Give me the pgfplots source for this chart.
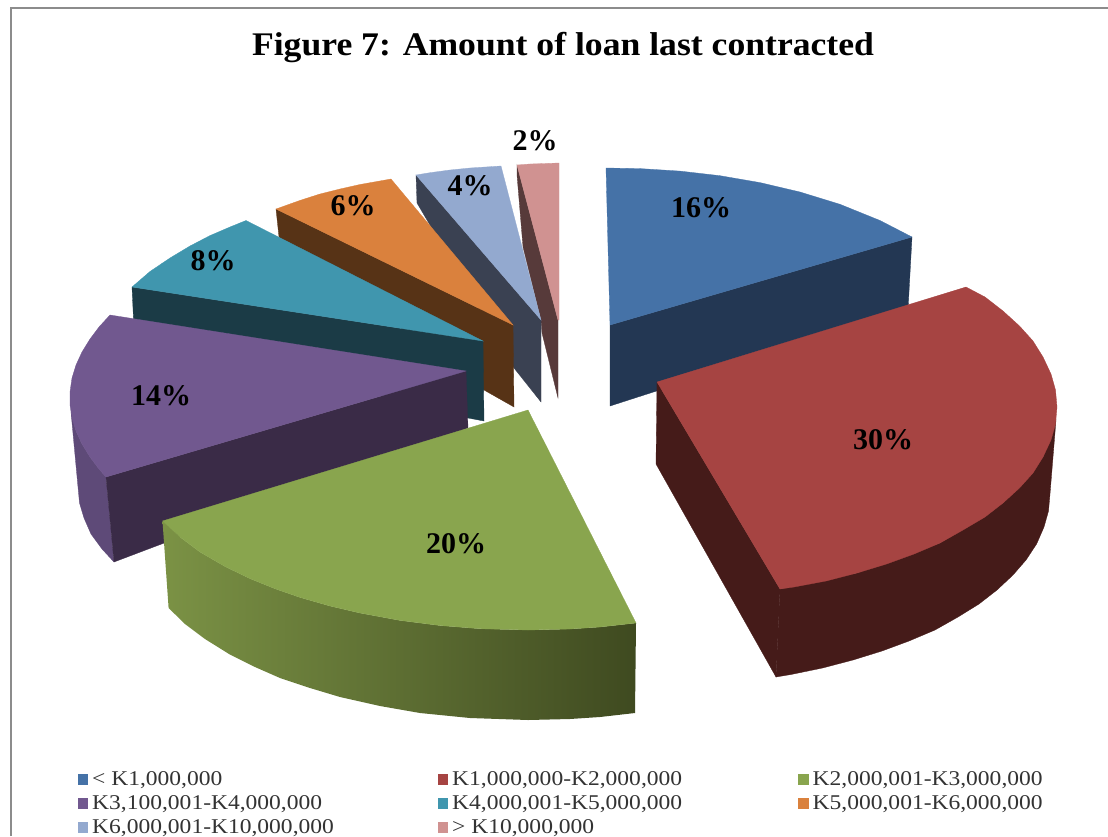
\documentclass[border=0pt]{standalone}
\usepackage{pgfplots}
\pgfplotsset{compat=1.18}
\usepackage{fontspec}
\setmainfont{Liberation Serif}
\newfontfamily\titlefont[FakeStretch=1.08]{Liberation Serif}
\newfontfamily\legendfont[FakeStretch=1.12]{Liberation Serif}
\definecolor{blueT}{HTML}{4572A7}\definecolor{blueD}{HTML}{233753}
\definecolor{redT}{HTML}{A64442}\definecolor{redD}{HTML}{451B19}
\definecolor{greenT}{HTML}{89A54E}\definecolor{greenL}{HTML}{7B9245}\definecolor{greenR}{HTML}{3F4A20}
\definecolor{purpT}{HTML}{71588F}\definecolor{purpW}{HTML}{5E4A78}\definecolor{purpD}{HTML}{3A2B47}
\definecolor{tealT}{HTML}{4096AE}\definecolor{tealD}{HTML}{1B3B46}
\definecolor{oranT}{HTML}{DA813D}\definecolor{oranD}{HTML}{573316}
\definecolor{lblueT}{HTML}{93A9CF}\definecolor{lblueD}{HTML}{3A4152}
\definecolor{pinkT}{HTML}{D09291}\definecolor{pinkD}{HTML}{573A3A}
\definecolor{framegray}{HTML}{8C8C8C}
\pgfplotsset{face/.style={draw=#1,line width=0.3pt,fill=#1,mark=none,forget plot}}
\newcommand{\lab}[2]{\node[font=\fontsize{30}{30}\selectfont\bfseries,text=black,inner sep=0pt] at (axis cs:#1) {#2};}
\newcommand{\leg}[3]{%
  \addplot[only marks,mark=square*,mark size=4.7pt,mark options={draw=#3,fill=#3},forget plot] coordinates {(#1)};
  \node[anchor=west,font=\legendfont\fontsize{21}{21}\selectfont,text=black!80,inner sep=0pt,yshift=-1.5pt] at (axis cs:#1) {\hspace{9.5pt}#2};}
\begin{document}
\begin{tikzpicture}
\begin{axis}[
  at={(0,0)},anchor=south west,scale only axis,
  width=1108pt,height=836pt,
  xmin=0,xmax=1108,ymin=0,ymax=836,y dir=reverse,
  hide axis,clip=true]
% chart frame, open at the right and at the bottom
\addplot[draw=framegray,line width=2pt,mark=none,forget plot] coordinates {(10.5,836) (10.5,7.5) (1108,7.5)};
% > K10,000,000 (2%)
\addplot[face=pinkD] coordinates {(517,165) (517,175) (523,247) (541,320) (542,333) (558,398) (558,320)} --cycle;
\addplot[face=pinkT] coordinates {(517,165) (530,164) (545,163.5) (559,163) (559,320) (558,320)} --cycle;
% K6,000,001-K10,000,000 (4%)
\addplot[face=lblueD] coordinates {(416,175) (541,320) (541,402) (514,368) (417,203)} --cycle;
\addplot[face=lblueT] coordinates {(416,175) (430,172.7) (450,170) (470,168) (501,166) (541,320)} --cycle;
% K5,000,001-K6,000,000 (6%)
\addplot[face=oranD] coordinates {(276,209) (513,325) (514,407) (484,390) (279,237)} --cycle;
\addplot[face=oranT] coordinates {(276,209) (300,200.4) (320,194) (340,189) (360,184.5) (391,179) (513,325)} --cycle;
% K4,000,001-K5,000,000 (8%)
\addplot[face=tealD] coordinates {(132,287) (483,341) (484,421) (468,418) (134,330)} --cycle;
\addplot[face=tealT] coordinates {(132,287) (150,271.5) (170,258) (190,246) (210,235.6) (230,227) (246,220.5) (483,341)} --cycle;
% K3,100,001-K4,000,000 (14%)
\addplot[face=purpW] coordinates {(71,412) (78,487) (79.5,503) (84,518) (91,534) (102,549) (114,562) (106,477) (99,469) (90,457) (82,444) (76,431)} --cycle;
\addplot[face=purpD] coordinates {(466,371) (106,477) (114,562) (468,428)} --cycle;
\addplot[face=purpT] coordinates {(110,315) (99,327) (90,339) (82,352) (76,365) (72,378) (70,392) (70,405) (72,418) (76,431) (82,444) (90,457) (99,469) (106,477) (466,371)} --cycle;
% < K1,000,000 (16%)
\addplot[face=blueD] coordinates {(610,325) (912,237) (908,310) (610,406)} --cycle;
\addplot[face=blueT] coordinates {(606,168) (640,168.6) (680,171.1) (720,175.7) (760,182.6) (800,192) (840,204.3) (880,220.5) (912,237) (610,325)} --cycle;
% K2,000,001-K3,000,000 (20%)
\addplot[draw=none,left color=greenL,right color=greenR,mark=none,forget plot] coordinates {(162.5,521) (180,537) (200,552) (225,566.5) (250,578.6) (275,588.7) (300,597.4) (330,606) (360,613) (400,620.4) (440,625.5) (480,628.7) (528,630) (570,629) (600,627) (636,623) (635,713) (600,717) (570,719) (528,720) (470,718) (420,713) (380,706) (340,697) (310,688) (280,678) (255,667) (230,654.6) (205,639) (185,624) (168.6,608)} --cycle;
\addplot[face=greenT] coordinates {(528,410) (162.5,521) (180,537) (200,552) (225,566.5) (250,578.6) (275,588.7) (300,597.4) (330,606) (360,613) (400,620.4) (440,625.5) (480,628.7) (528,630) (570,629) (600,627) (636,623)} --cycle;
% K1,000,000-K2,000,000 (30%)
\addplot[face=redD] coordinates {(657,382) (780,589) (776,677) (656,464)} --cycle;
\addplot[face=redD] coordinates {(1056,420) (1050,494) (1048.5,511) (1044,527) (1036.6,544) (1026,560) (1013,575) (997,590) (979,604) (958,617) (935,630) (909,641) (882,651) (853,660) (822.5,668) (791,674.5) (776,677) (780,589) (857,573) (940,543) (1003,503) (1043,457)} --cycle;
\addplot[face=redT] coordinates {(657,382) (966,287) (985,297) (1003,311) (1019.5,326) (1033,341) (1043,357) (1051,374) (1055.5,390) (1057,407) (1055.5,424) (1051,440) (1043,457) (1033,473) (1019.5,488) (1003,503) (985,517) (963,530) (940,543) (914,554) (886.5,564) (857,573) (826,581) (794,587) (780,589)} --cycle;
% percentage labels
\lab{701,208}{16\%}
\lab{883,440}{30\%}
\lab{456,544}{20\%}
\lab{161,396}{14\%}
\lab{213,261}{8\%}
\lab{353,206}{6\%}
\lab{470,186}{4\%}
\lab{535,141}{2\%}
% title
\node[font=\titlefont\fontsize{33}{33}\selectfont\bfseries,text=black,inner sep=0pt] at (axis cs:563,48) {Figure 7: Amount of loan last contracted};
% legend entries
\leg{82.5,779}{< K1,000,000}{blueT}
\leg{442.5,779}{K1,000,000-K2,000,000}{redT}
\leg{803,779}{K2,000,001-K3,000,000}{greenT}
\leg{82.5,803}{K3,100,001-K4,000,000}{purpT}
\leg{442.5,803}{K4,000,001-K5,000,000}{tealT}
\leg{803,803}{K5,000,001-K6,000,000}{oranT}
\leg{82.5,827}{K6,000,001-K10,000,000}{lblueT}
\leg{442.5,827}{> K10,000,000}{pinkT}
\end{axis}
\pgfresetboundingbox
\path[use as bounding box] (0,0) rectangle (1108pt,836pt);
\end{tikzpicture}
\end{document}
